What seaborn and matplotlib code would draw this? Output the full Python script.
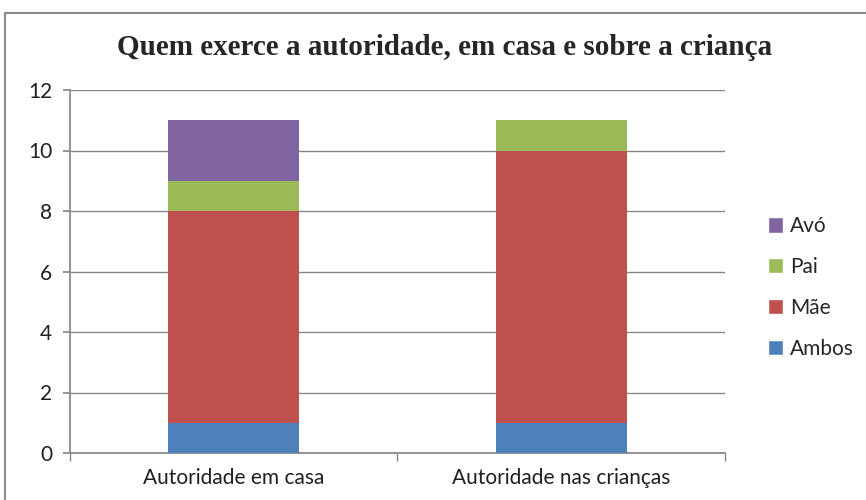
import pandas as pd
import seaborn as sns
import matplotlib.pyplot as plt
from matplotlib.patches import Rectangle, Patch

categorias = ["Autoridade em casa", "Autoridade nas crianças"]
series = ["Ambos", "Mãe", "Pai", "Avó"]
ambos = [1, 1]
mae = [7, 9]
pai = [1, 1]
avo = [2, 0]
cores = {"Ambos": "#4F81BD", "Mãe": "#C0504D", "Pai": "#9BBB59", "Avó": "#8064A2"}

sns.set_theme(style="white")
plt.rcParams["font.family"] = ["Lato", "DejaVu Sans"]

df = pd.DataFrame({"categoria": categorias, "Ambos": ambos, "Mãe": mae, "Pai": pai, "Avó": avo})
# cumulative sums so the bars can be layered from the tallest down
cum = df[series].cumsum(axis=1)
cum["categoria"] = df["categoria"]

fig = plt.figure(figsize=(8.66, 5.0), dpi=100)
ax = fig.add_axes([0.081, 0.094, 0.756, 0.726])

for s in reversed(series):
    sns.barplot(data=cum, x="categoria", y=s, color=cores[s], width=0.4,
                saturation=1, ax=ax, zorder=3, linewidth=0)

ax.set_xlim(-0.5, 1.5)
ax.set_ylim(0, 12)
ax.set_yticks(range(0, 13, 2))
ax.yaxis.grid(True, color="#878787", linewidth=1)
ax.set_axisbelow(True)
ax.set_xlabel("")
ax.set_ylabel("")
for sp in ["top", "right"]:
    ax.spines[sp].set_visible(False)
ax.spines["left"].set_color("#878787")
ax.spines["bottom"].set_color("#878787")
ax.tick_params(axis="y", left=True, length=5, color="#878787", labelsize=15, pad=8)
ax.tick_params(axis="x", which="major", length=0, labelsize=15, pad=11)
ax.set_xticks([-0.5, 0.5, 1.5], minor=True)
ax.tick_params(axis="x", which="minor", bottom=True, length=6, color="#878787")
for lbl in ax.get_xticklabels() + ax.get_yticklabels():
    lbl.set_color("#202020")

handles = [Patch(facecolor=cores[s], label=s) for s in reversed(series)]
fig.legend(handles=handles, loc="center left", bbox_to_anchor=(0.865, 0.425), frameon=False,
           fontsize=15, handlelength=0.75, handleheight=0.75, handletextpad=0.3, labelspacing=1.0)

fig.text(0.513, 0.905, "Quem exerce a autoridade, em casa e sobre a criança", ha="center", va="center",
         fontsize=21, fontweight="bold", family="Liberation Serif")

fig.patches.append(Rectangle((0.006, -0.1), 1.2, 1.075, transform=fig.transFigure, fill=False,
                             edgecolor="#8a8a8a", linewidth=1.5))

fig.savefig("out.png", dpi=100)
